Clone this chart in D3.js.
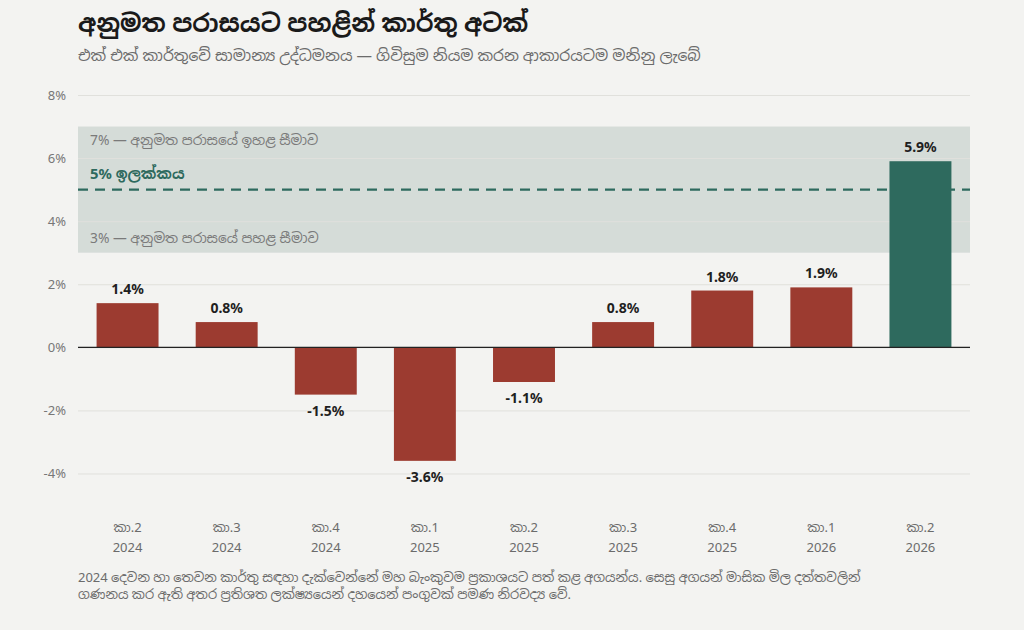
<!DOCTYPE html>
<html>
<head>
<meta charset="utf-8">
<script src="https://cdn.jsdelivr.net/npm/d3@7"></script>
<style>
  html, body { margin: 0; padding: 0; background: #f3f3f1; }
  svg { display: block; font-family: "Noto Sans", "Noto Sans Sinhala", sans-serif; }
</style>
</head>
<body>
<svg id="chart" width="1024" height="630"></svg>
<script>
// quarters, as shown on the x axis
const quarters = ['කා.2', 'කා.3', 'කා.4', 'කා.1', 'කා.2', 'කා.3', 'කා.4', 'කා.1', 'කා.2'];
const years = ['2024', '2024', '2024', '2025', '2025', '2025', '2025', '2026', '2026'];
// year-on-year change, %
const values = [1.4, 0.8, -1.5, -3.6, -1.1, 0.8, 1.8, 1.9, 5.9];
const yTicks = [-4, -2, 0, 2, 4, 6, 8];
const band = [3, 7];
const target = 5;

const title = 'අනුමත පරාසයට පහළින් කාර්තු අටක්';
const subtitle = 'එක් එක් කාර්තුවේ සාමාන්‍ය උද්ධමනය — ගිවිසුම නියම කරන ආකාරයටම මනිනු ලැබේ';
const bandTop = '7% — අනුමත පරාසයේ ඉහළ සීමාව';
const bandBottom = '3% — අනුමත පරාසයේ පහළ සීමාව';
const targetLabel = '5% ඉලක්කය';
const note = [
  '2024 දෙවන හා තෙවන කාර්තු සඳහා දැක්වෙන්නේ මහ බැංකුවම ප්‍රකාශයට පත් කළ අගයන්ය. සෙසු අගයන් මාසික මිල දත්තවලින්',
  'ගණනය කර ඇති අතර ප්‍රතිශත ලක්ෂ්‍යයෙන් දහයෙන් පංගුවක් පමණ නිරවද්‍ය වේ.'
];

const red = '#9c3b30', green = '#2e6a5e';

const svg = d3.select('#chart');
const left = 78, right = 970;

const x = d3.scaleBand().domain(d3.range(values.length)).range([left, right])
  .paddingInner(0.375).paddingOuter(0.1875);
const y = d3.scaleLinear().domain([-5, 8]).range([505, 95]);

// title block
svg.append('text').attr('x', left).attr('y', 32)
  .attr('font-size', 24.5).attr('font-weight', 700).attr('fill', '#1a1a1a').text(title);
svg.append('text').attr('x', left).attr('y', 61)
  .attr('font-size', 15.5).attr('fill', '#6b6b6b').text(subtitle);

// band of tolerance
svg.append('rect')
  .attr('x', left).attr('width', right - left)
  .attr('y', y(band[1])).attr('height', y(band[0]) - y(band[1]))
  .attr('fill', '#d5dcd8');

// grid
const yAxis = d3.axisLeft(y).tickValues(yTicks).tickSize(-(right - left)).tickFormat(d => d + '%');
const gy = svg.append('g').attr('transform', `translate(${left},0)`).call(yAxis);
gy.select('.domain').remove();
gy.selectAll('.tick line').attr('stroke', '#e0e0dc').attr('stroke-width', 1);
gy.selectAll('.tick text').attr('x', -12).attr('font-size', 13).attr('fill', '#777')
  .attr('font-family', '"Noto Sans", sans-serif');

// band labels
svg.append('text').attr('x', left + 12).attr('y', y(band[1]) + 18)
  .attr('font-size', 13.8).attr('fill', '#7a7a7a').text(bandTop);
svg.append('text').attr('x', left + 12).attr('y', y(band[0]) - 10)
  .attr('font-size', 13.8).attr('fill', '#7a7a7a').text(bandBottom);

// target line
svg.append('line').attr('x1', left).attr('x2', right)
  .attr('y1', y(target)).attr('y2', y(target))
  .attr('stroke', green).attr('stroke-width', 2.2).attr('stroke-dasharray', '10,7');
svg.append('text').attr('x', left + 12).attr('y', y(target) - 11)
  .attr('font-size', 14.8).attr('font-weight', 700).attr('fill', green).text(targetLabel);

// bars
const last = values.length - 1;
svg.append('g').selectAll('rect').data(values).join('rect')
  .attr('x', (d, i) => x(i)).attr('width', x.bandwidth())
  .attr('y', d => y(Math.max(0, d)))
  .attr('height', d => Math.abs(y(d) - y(0)))
  .attr('fill', (d, i) => i === last ? green : red);

svg.append('g').selectAll('text').data(values).join('text')
  .attr('x', (d, i) => x(i) + x.bandwidth() / 2)
  .attr('y', d => d >= 0 ? y(d) - 9 : y(d) + 21)
  .attr('text-anchor', 'middle').attr('font-size', 14).attr('font-weight', 700)
  .attr('fill', '#1f1f1f').text(d => d.toFixed(1) + '%');

// zero line
svg.append('line').attr('x1', left).attr('x2', right)
  .attr('y1', y(0)).attr('y2', y(0)).attr('stroke', '#222').attr('stroke-width', 1.3);

// x labels
const xl = svg.append('g').selectAll('text').data(values).join('text')
  .attr('text-anchor', 'middle').attr('font-size', 13).attr('fill', '#6b6b6b');
xl.append('tspan').attr('x', (d, i) => x(i) + x.bandwidth() / 2).attr('y', 532).text((d, i) => quarters[i]);
xl.append('tspan').attr('x', (d, i) => x(i) + x.bandwidth() / 2).attr('y', 552).text((d, i) => years[i]);

// footnote
svg.append('g').selectAll('text').data(note).join('text')
  .attr('x', left).attr('y', (d, i) => 582 + i * 17)
  .attr('font-size', 13).attr('fill', '#6b6b6b').text(d => d);
</script>
</body>
</html>
